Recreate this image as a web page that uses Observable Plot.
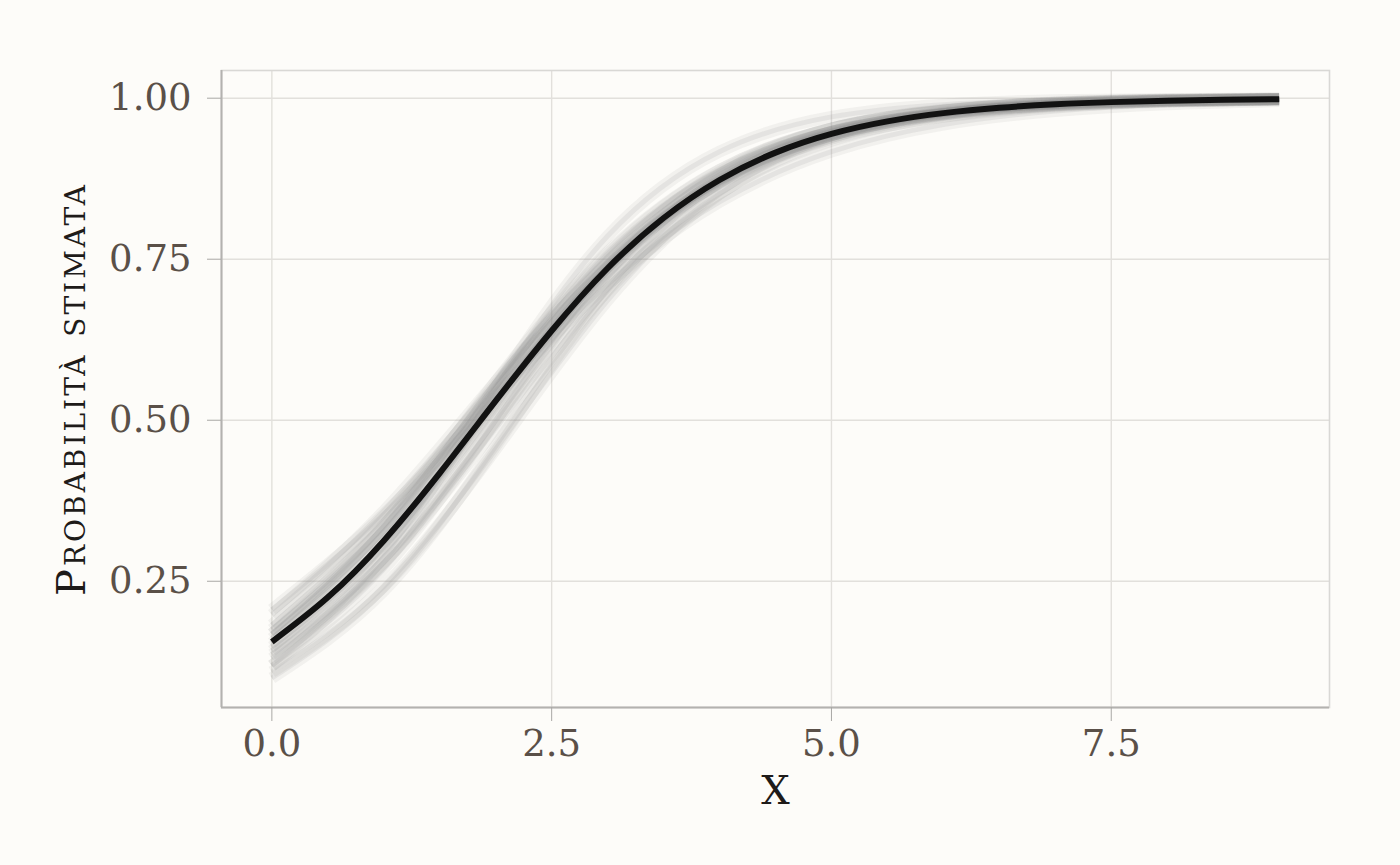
<!DOCTYPE html>
<html>
<head>
<meta charset="utf-8">
<script src="https://cdn.jsdelivr.net/npm/d3@7"></script>
<script src="https://cdn.jsdelivr.net/npm/@observablehq/plot@0.6"></script>
<style>
  html, body { margin: 0; padding: 0; background: #fdfcf9; }
  #chart { width: 1400px; height: 865px; }
</style>
</head>
<body>
<div id="chart"></div>
<script>
// ---- data ----
const xTitle = "X";
const yTitle = "Probabilità stimata";
const xTicks = [0, 2.5, 5, 7.5];
const yTicks = [0.25, 0.5, 0.75, 1.0];
const xDomain = [-0.45, 9.45];
const yDomain = [0.054, 1.043];

// mean estimated curve
const meanX = [0, 0.5, 1, 1.5, 2, 2.5, 3, 3.5, 4, 4.5, 5, 5.5, 6, 6.5, 7, 7.5, 8, 8.5, 9];
const meanY = [0.156, 0.225, 0.313, 0.418, 0.530, 0.639, 0.736, 0.814, 0.873, 0.9155, 0.9446, 0.964, 0.9768, 0.9851, 0.9905, 0.9939, 0.9961, 0.9975, 0.9984];

// posterior draws (faint grey curves)
const drawX = [0, 1, 2, 3, 4, 5, 6, 7, 8, 9];
const drawValues = [
  [0.198, 0.359, 0.560, 0.743, 0.868, 0.937, 0.971, 0.987, 0.9943, 0.9975],
  [0.182, 0.345, 0.555, 0.746, 0.874, 0.943, 0.975, 0.989, 0.9954, 0.9981],
  [0.168, 0.327, 0.540, 0.739, 0.872, 0.943, 0.975, 0.990, 0.9957, 0.9982],
  [0.161, 0.327, 0.552, 0.758, 0.888, 0.953, 0.981, 0.9923, 0.9969, 0.9988],
  [0.148, 0.304, 0.522, 0.733, 0.873, 0.945, 0.977, 0.9909, 0.9964, 0.9985],
  [0.142, 0.302, 0.530, 0.746, 0.885, 0.953, 0.981, 0.9928, 0.9972, 0.9989],
  [0.130, 0.279, 0.500, 0.721, 0.870, 0.945, 0.978, 0.9914, 0.9967, 0.9987],
  [0.119, 0.269, 0.500, 0.731, 0.881, 0.953, 0.982, 0.9933, 0.9975, 0.9991],
  [0.109, 0.242, 0.455, 0.686, 0.851, 0.937, 0.975, 0.9902, 0.9962, 0.9986],
  [0.0998, 0.235, 0.460, 0.703, 0.868, 0.948, 0.9805, 0.9929, 0.9974, 0.9991],
  [0.206, 0.354, 0.537, 0.711, 0.839, 0.917, 0.959, 0.980, 0.9905, 0.9955],
  [0.119, 0.289, 0.550, 0.786, 0.917, 0.971, 0.990, 0.9967, 0.9989, 0.9996],
  [0.154, 0.310, 0.525, 0.731, 0.870, 0.943, 0.976, 0.990, 0.9959, 0.9983],
  [0.168, 0.336, 0.560, 0.761, 0.889, 0.953, 0.9805, 0.9922, 0.9969, 0.9988],
  [0.136, 0.279, 0.4875, 0.701, 0.852, 0.934, 0.972, 0.9885, 0.9953, 0.9981],
  [0.175, 0.334, 0.542, 0.737, 0.869, 0.940, 0.974, 0.9887, 0.9952, 0.9980]
];

// ---- tables for the library ----
const meanData = meanX.map((x, i) => ({x, y: meanY[i]}));
const drawData = drawValues.flatMap((vals, d) => vals.map((y, i) => ({draw: d, x: drawX[i], y})));

const tickColor = "#5a5048";
const gridColor = "#e2e0dc";

const chart = Plot.plot({
  width: 1400,
  height: 865,
  marginLeft: 221,
  marginRight: 71,
  marginTop: 70,
  marginBottom: 158,
  style: { fontFamily: "DejaVu Serif", background: "#fdfcf9", overflow: "visible" },
  x: { domain: xDomain },
  y: { domain: yDomain },
  marks: [
    Plot.gridX(xTicks, { stroke: gridColor, strokeOpacity: 1, strokeWidth: 1.4 }),
    Plot.gridY(yTicks, { stroke: gridColor, strokeOpacity: 1, strokeWidth: 1.4 }),
    Plot.frame({ stroke: "#d9d8d5", strokeWidth: 1.6 }),
    Plot.ruleX([xDomain[0]], { stroke: "#b3b2af", strokeWidth: 2 }),
    Plot.ruleY([yDomain[0]], { stroke: "#b3b2af", strokeWidth: 2 }),
    Plot.line(drawData, { x: "x", y: "y", z: "draw", curve: "natural", stroke: "#8a8a8a", strokeOpacity: 0.09, strokeWidth: 12, strokeLinecap: "butt" }),
    Plot.line(drawData, { x: "x", y: "y", z: "draw", curve: "natural", stroke: "#8a8a8a", strokeOpacity: 0.13, strokeWidth: 5, strokeLinecap: "butt" }),
    Plot.line(meanData, { x: "x", y: "y", curve: "natural", stroke: "#121212", strokeWidth: 6, strokeLinecap: "butt" }),
    Plot.axisX(xTicks, { tickFormat: d3.format(".1f"), tickSize: 14, tickPadding: 8, stroke: "#a9a8a5", fill: tickColor, fontSize: 37, label: null }),
    Plot.axisY(yTicks, { tickFormat: d3.format(".2f"), tickSize: 14, tickPadding: 16, stroke: "#a9a8a5", fill: tickColor, fontSize: 37, label: null }),
    Plot.text([xTitle], { frameAnchor: "bottom", dy: 96, lineAnchor: "bottom", fontSize: 40, fill: "#1e1b19" }),
    Plot.text([yTitle], { frameAnchor: "left", dx: -149, rotate: -90, textAnchor: "middle", lineAnchor: "middle", fontSize: 40, fontVariant: "small-caps", fill: "#1e1b19" })
  ]
});

// letter spacing for the small-caps axis title
d3.select(chart).selectAll("text").filter(function() { return this.textContent === yTitle; })
  .style("letter-spacing", "3px");

document.getElementById("chart").appendChild(chart);
</script>
</body>
</html>
